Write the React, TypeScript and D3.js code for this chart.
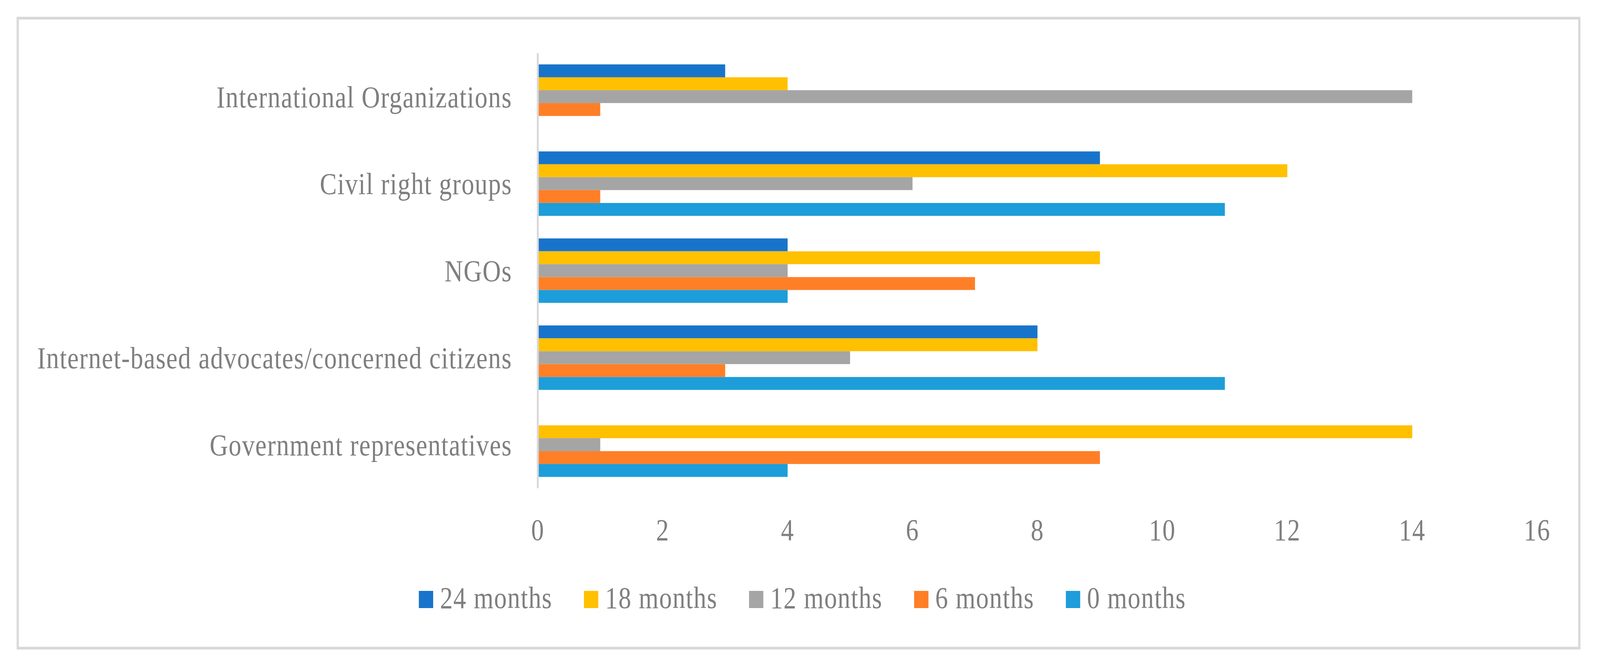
import React from "react";
import * as d3 from "d3";

const categories = [
  "International Organizations",
  "Civil right groups",
  "NGOs",
  "Internet-based advocates/concerned citizens",
  "Government representatives",
];

const seriesNames = ["24 months", "18 months", "12 months", "6 months", "0 months"];

// values per series, in the same order as categories (top to bottom)
const months24 = [3, 9, 4, 8, 0];
const months18 = [4, 12, 9, 8, 14];
const months12 = [14, 6, 4, 5, 1];
const months6 = [1, 1, 7, 3, 9];
const months0 = [0, 11, 4, 11, 4];

const xTicks = [0, 2, 4, 6, 8, 10, 12, 14, 16];

const seriesColors = ["#1874CA", "#FFC000", "#A5A5A5", "#FF7F27", "#1D9DD9"];

const W = 4915;
const H = 1713;
const margin = { top: 136, right: 193, bottom: 463, left: 1652 };
const FONT = "'Palatino Linotype', Palatino, 'Book Antiqua', 'Liberation Serif', serif";
const FONT_SIZE = 78;
const LETTER_SP = 2;
const TEXT_COLOR = "#7F7F7F";
const LINE_COLOR = "#D9D9D9";

const App: React.FC = () => {
  const svgRef = React.useRef<SVGSVGElement>(null);

  React.useEffect(() => {
    document.body.style.margin = "0";
    document.body.style.overflow = "hidden";
    const svgEl = d3.select(svgRef.current);
    svgEl.selectAll("*").remove();
    // stretch the drawing to whatever window it is photographed in
    svgEl.attr("viewBox", `0 0 ${W} ${H}`).attr("preserveAspectRatio", "none");

    const values = [months24, months18, months12, months6, months0];
    const data = categories.map((c, ci) => ({
      category: c,
      bars: seriesNames.map((s, si) => ({ series: s, value: values[si][ci], color: seriesColors[si] })),
    }));

    svgEl.append("rect").attr("width", W).attr("height", H).attr("fill", "white");

    // chart border
    svgEl
      .append("rect")
      .attr("x", 54.5)
      .attr("y", 46.5)
      .attr("width", 4797)
      .attr("height", 1613)
      .attr("fill", "white")
      .attr("stroke", LINE_COLOR)
      .attr("stroke-width", 7);

    const plotBottom = H - margin.bottom;
    const plotRight = W - margin.right;

    const xScale = d3.scaleLinear().domain([0, 16]).range([margin.left, plotRight]);

    // Excel gap width 175%
    const gap = 1.75 / 6.75;
    const yScale = d3
      .scaleBand<string>()
      .domain(categories)
      .range([margin.top, plotBottom])
      .paddingInner(gap)
      .paddingOuter(gap / 2);

    const yInner = d3.scaleBand<string>().domain(seriesNames).range([0, yScale.bandwidth()]);

    // bars
    const groups = svgEl
      .append("g")
      .selectAll("g")
      .data(data)
      .join("g")
      .attr("transform", (d) => `translate(0,${yScale(d.category)})`);

    groups
      .selectAll("rect")
      .data((d) => d.bars.filter((b) => b.value > 0))
      .join("rect")
      .attr("x", xScale(0))
      .attr("y", (b) => yInner(b.series)!)
      .attr("width", (b) => xScale(b.value) - xScale(0))
      .attr("height", yInner.bandwidth())
      .attr("fill", (b) => b.color);

    // vertical axis line
    svgEl
      .append("line")
      .attr("x1", xScale(0))
      .attr("x2", xScale(0))
      .attr("y1", margin.top)
      .attr("y2", plotBottom)
      .attr("stroke", LINE_COLOR)
      .attr("stroke-width", 6);

    const styleText = (sel: any) =>
      sel
        .attr("font-family", FONT)
        .attr("font-size", FONT_SIZE)
        .attr("letter-spacing", LETTER_SP)
        .attr("fill", TEXT_COLOR);

    // category labels
    svgEl
      .append("g")
      .selectAll("text")
      .data(categories)
      .join("text")
      .attr("x", xScale(0) - 79)
      .attr("y", (c) => yScale(c)! + yScale.bandwidth() / 2)
      .attr("dy", "0.35em")
      .attr("text-anchor", "end")
      .call(styleText)
      .text((c) => c);

    // x tick labels
    svgEl
      .append("g")
      .selectAll("text")
      .data(xTicks)
      .join("text")
      .attr("x", (t) => xScale(t))
      .attr("y", 1383)
      .attr("text-anchor", "middle")
      .call(styleText)
      .text((t) => String(t));

    // legend
    const legend = svgEl.append("g");
    const sw = 44;
    const items = seriesNames.map((s, i) => {
      const g = legend.append("g");
      g.append("rect").attr("width", sw).attr("height", sw).attr("y", -sw).attr("fill", seriesColors[i]);
      const t = g.append("text").attr("x", sw + 21).call(styleText).text(s);
      const tw = (t.node() as SVGTextElement).getComputedTextLength();
      return { g, w: sw + 21 + tw };
    });
    const itemGap = 97;
    const total = d3.sum(items, (d) => d.w) + itemGap * (items.length - 1);
    let cx = 2465 - total / 2;
    items.forEach((it) => {
      it.g.attr("transform", `translate(${cx},1557)`);
      cx += it.w + itemGap;
    });
  }, []);

  return (
    <svg
      ref={svgRef}
      style={{ display: "block", width: "100vw", height: "100vh" }}
    />
  );
};

export default App;
